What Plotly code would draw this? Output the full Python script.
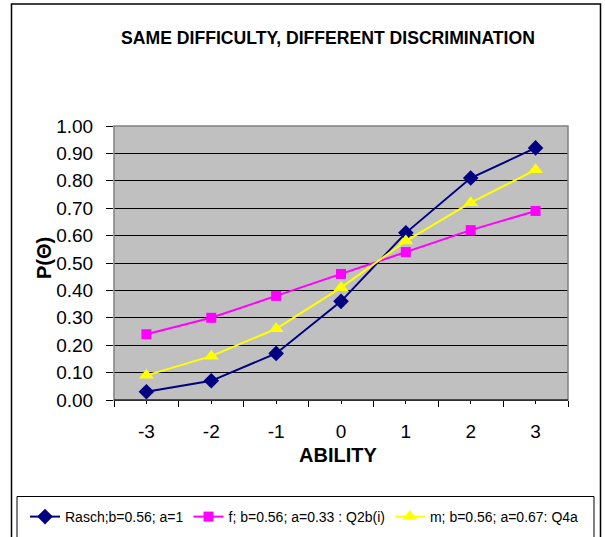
import plotly.graph_objects as go

# Ability levels (theta) and item characteristic curve values
ability = [-3, -2, -1, 0, 1, 2, 3]
rasch = [0.03, 0.07, 0.17, 0.36, 0.61, 0.81, 0.92]
f_item = [0.24, 0.30, 0.38, 0.46, 0.54, 0.62, 0.69]
m_item = [0.09, 0.16, 0.26, 0.41, 0.58, 0.72, 0.84]

series_names = [
    "Rasch;b=0.56; a=1",
    "f; b=0.56; a=0.33 : Q2b(i)",
    "m; b=0.56; a=0.67: Q4a",
]
y_ticks = [i / 10 for i in range(11)]

W, H = 605, 537
L, R, T, B = 114, 37, 126, 137
pw, ph = W - L - R, H - T - B


def px_x(p):
    return (p - L) / pw


def px_y(p):
    return (H - B - p) / ph


fig = go.Figure()
styles = [
    dict(color="#000080", symbol="diamond", size=12),
    dict(color="#FF00FF", symbol="square", size=10),
    dict(color="#FFFF00", symbol="triangle-up", size=13),
]
for name, vals, st in zip(series_names, [rasch, f_item, m_item], styles):
    fig.add_trace(go.Scatter(
        x=ability, y=vals, name=name, mode="lines+markers",
        line=dict(color=st["color"], width=2),
        marker=dict(color=st["color"], symbol=st["symbol"], size=st["size"],
                    line=dict(width=0)),
    ))

font = "Liberation Sans, Arial, sans-serif"

fig.update_layout(
    width=W, height=H,
    margin=dict(l=L, r=R, t=T, b=B, autoexpand=False),
    paper_bgcolor="white",
    plot_bgcolor="#C0C0C0",
    font=dict(family=font, color="black"),
    title=dict(text="<b>SAME DIFFICULTY, DIFFERENT DISCRIMINATION</b>",
               font=dict(size=17.6, family=font, color="black"),
               x=328 / W, xanchor="center", y=1 - 38 / H, yanchor="middle"),
    showlegend=True,
    legend=dict(orientation="h", x=px_x(25), xanchor="left",
                y=px_y(517), yanchor="middle",
                font=dict(size=14, family=font), bgcolor="rgba(0,0,0,0)",
                borderwidth=0, itemwidth=30, tracegroupgap=0),
)

fig.update_xaxes(
    range=[-3.5, 3.5], tickvals=ability, ticktext=[str(a) for a in ability],
    ticks="outside", ticklen=3, tickcolor="black", tickwidth=1,
    minor=dict(tick0=-3.5, dtick=1, ticks="outside", ticklen=6,
               tickcolor="black", showgrid=False),
    showgrid=False, zeroline=False,
    showline=True, linecolor="black", linewidth=1,
    tickfont=dict(size=19), ticklabelstandoff=11,
)
fig.update_yaxes(
    range=[0, 1], tickvals=y_ticks, tickformat=".2f",
    ticks="outside", ticklen=7, tickcolor="black", tickwidth=1,
    showgrid=True, gridcolor="black", gridwidth=1, zeroline=False,
    showline=False, tickfont=dict(size=19), ticklabelstandoff=9,
)

# plot-area frame, outer chart border and legend box
fig.add_shape(type="rect", xref="paper", yref="paper", x0=0, x1=1, y0=0, y1=1,
              line=dict(color="#808080", width=1.5), layer="above")
fig.add_shape(type="line", xref="paper", yref="paper", x0=0, x1=1, y0=0, y1=0,
              line=dict(color="black", width=1), layer="above")
fig.add_shape(type="rect", xref="paper", yref="paper",
              x0=px_x(11.5), x1=px_x(600.5), y0=px_y(560), y1=px_y(4),
              line=dict(color="black", width=1.5))
fig.add_shape(type="rect", xref="paper", yref="paper",
              x0=px_x(17), x1=px_x(594), y0=px_y(560), y1=px_y(496.5),
              line=dict(color="black", width=1))

# axis titles
fig.add_annotation(text="<b>P(Θ)</b>", xref="paper", yref="paper",
                   x=px_x(44), y=px_y(258), xanchor="center", yanchor="middle",
                   showarrow=False, textangle=-90,
                   font=dict(size=20, family=font, color="black"))
fig.add_annotation(text="<b>ABILITY</b>", xref="paper", yref="paper",
                   x=px_x(338), y=px_y(455), xanchor="center", yanchor="middle",
                   showarrow=False,
                   font=dict(size=20, family=font, color="black"))

fig.write_html("out.html")
